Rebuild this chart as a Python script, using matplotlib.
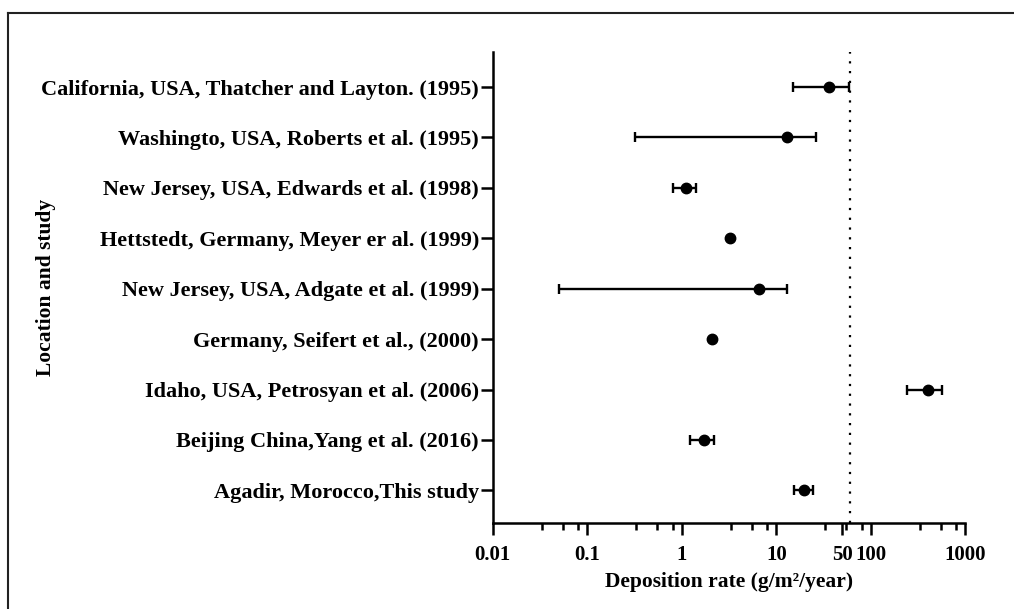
import numpy as np
import matplotlib
matplotlib.use("Agg")
import matplotlib.pyplot as plt
from matplotlib.lines import Line2D

plt.rcParams['font.family'] = ['Liberation Serif', 'DejaVu Serif']
plt.rcParams['font.weight'] = 'bold'

# studies, top to bottom
studies = [
    "California, USA, Thatcher and Layton. (1995)",
    "Washingto, USA, Roberts et al. (1995)",
    "New Jersey, USA, Edwards et al. (1998)",
    "Hettstedt, Germany, Meyer er al. (1999)",
    "New Jersey, USA, Adgate et al. (1999)",
    "Germany, Seifert et al., (2000)",
    "Idaho, USA, Petrosyan et al. (2006)",
    "Beijing China,Yang et al. (2016)",
    "Agadir, Morocco,This study",
]
# deposition rate (g/m2/year): central value and range
rate = [36, 13, 1.1, 3.2, 6.6, 2.1, 400, 1.7, 19.7]
low = [15, 0.32, 0.81, np.nan, 0.05, np.nan, 240, 1.23, 15.4]
high = [59, 26, 1.41, np.nan, 13, np.nan, 570, 2.21, 24.5]
limit = 60

xticks = [0.01, 0.1, 1, 10, 50, 100, 1000]
xticklabels = ["0.01", "0.1", "1", "10", "50", "100", "1000"]

fig = plt.figure(figsize=(10.14, 6.09), dpi=100)
ax = fig.add_axes([0.486, 0.141, 0.466, 0.774])

n = len(studies)
ypos = np.arange(n)[::-1] + 1

for y, v, lo, hi in zip(ypos, rate, low, high):
    if not np.isnan(lo):
        ax.errorbar([v], [y], xerr=[[v - lo], [hi - v]], fmt='none',
                    ecolor='black', elinewidth=1.7, capsize=3.4, capthick=1.7)
    ax.plot([v], [y], 'o', color='black', markersize=7.5, zorder=3)

ax.axvline(limit, color='black', linewidth=1.6, linestyle=(0, (1, 3.4)))

ax.set_xscale('log')
ax.set_xlim(0.01, 1000)
ax.set_ylim(0.35, 9.7)
ax.set_xticks(xticks)
ax.set_xticklabels(xticklabels)
minor = [m * 10.0 ** e for e in range(-2, 3) for m in (3.3, 5.5, 8)]
ax.set_xticks(minor, minor=True)
ax.set_yticks(ypos)
ax.set_yticklabels(studies)

for s in ['top', 'right']:
    ax.spines[s].set_visible(False)
for s in ['left', 'bottom']:
    ax.spines[s].set_linewidth(1.8)

ax.tick_params(axis='x', which='major', length=8.5, width=1.8, labelsize=15, pad=7)
ax.tick_params(axis='x', which='minor', length=5, width=1.8)
ax.tick_params(axis='y', length=9, width=1.8, labelsize=16, pad=1)

ax.set_xlabel("Deposition rate (g/m²/year)", fontsize=15.5, fontweight='bold', labelpad=5)
ax.set_ylabel("Location and study", fontsize=15.5, fontweight='bold')
ax.yaxis.set_label_coords(-0.924, 0.5, transform=ax.transAxes)

# outer frame (top and left edges visible)
fig.add_artist(Line2D([0.008, 1.0], [0.979, 0.979], color='#222222', linewidth=1.5))
fig.add_artist(Line2D([0.008, 0.008], [0.0, 0.979], color='#222222', linewidth=1.5))

fig.savefig("out.png", dpi=100)
